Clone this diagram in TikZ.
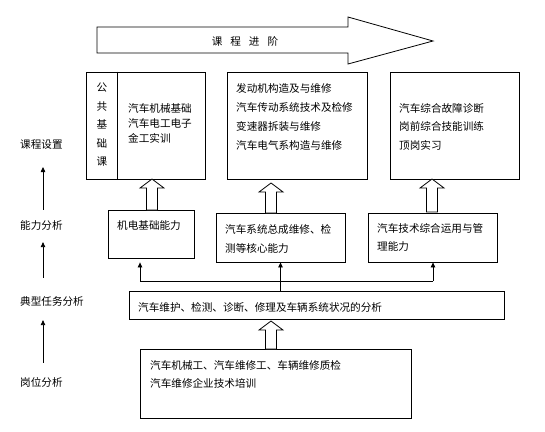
\documentclass[tikz,border=0pt]{standalone}
\usepackage{fontspec}
\newfontfamily\cjk{Noto Sans CJK SC}
\usetikzlibrary{arrows.meta}

% hollow upward block arrow: x centre, tip y, foot y
\newcommand{\hollowup}[3]{%
  \draw[hollow] (#1-5.5,#3) -- (#1-5.5,#2+9) -- (#1-12,#2+9) -- (#1,#2)
    -- (#1+12,#2+9) -- (#1+5.5,#2+9) -- (#1+5.5,#3) -- cycle;}

\begin{document}
\begin{tikzpicture}[
    x=1pt, y=-1pt,
    every node/.style={font=\cjk\fontsize{10.6}{13}\selectfont, inner sep=0pt},
    box/.style={draw, line width=0.8pt, rectangle},
    txt/.style={anchor=west, align=left},
    stage/.style={anchor=west},
    hollow/.style={draw, line width=0.8pt, fill=white, line join=miter},
    arr/.style={-{Triangle[length=5pt,width=4.5pt]}, line width=0.8pt}
]
\useasboundingbox (0,0) rectangle (545,431);

% Progress arrow
\draw[hollow] (97,27) -- (348,27) -- (348,17) -- (433,41) -- (348,64)
  -- (348,53) -- (97,53) -- cycle;
\node (progress) at (245,41) {课\hspace{8pt}程\hspace{8pt}进\hspace{8pt}阶};

% Course boxes
\node[box, minimum width=119pt, minimum height=107pt] (pub) at (145.5,125.5) {};
\node[box, minimum width=140pt, minimum height=107pt] (core) at (297,125.5) {};
\node[box, minimum width=129pt, minimum height=107pt] (comp) at (454.5,125.5) {};
\draw[line width=0.8pt] ([xshift=32pt]pub.north west) -- ([xshift=32pt]pub.south west);

\node[align=center, font=\cjk\fontsize{10.6}{18.5}\selectfont] (pubtitle) at (102,125)
  {公\\共\\基\\础\\课};
\node[txt, font=\cjk\fontsize{10.6}{15}\selectfont] (pubtext) at (128,123)
  {汽车机械基础\\汽车电工电子\\金工实训};
\node[txt, font=\cjk\fontsize{10.6}{19}\selectfont] (coretext) at (236,116.5)
  {发动机构造及与维修\\汽车传动系统技术及检修\\变速器拆装与维修\\汽车电气系构造与维修};
\node[txt, font=\cjk\fontsize{10.6}{18.5}\selectfont] (comptext) at (399,126.5)
  {汽车综合故障诊断\\岗前综合技能训练\\顶岗实习};

% Ability boxes
\node[box, minimum width=86pt, minimum height=48pt] (abil1) at (151,234) {};
\node[box, minimum width=129pt, minimum height=49pt] (abil2) at (280.5,237.5) {};
\node[box, minimum width=129pt, minimum height=49pt] (abil3) at (432.5,237.5) {};
\node[txt] (abiltext1) at (117,225) {机电基础能力};
\node[txt, font=\cjk\fontsize{10.6}{19}\selectfont] (abiltext2) at (225,238.5)
  {汽车系统总成维修、检\\测等核心能力};
\node[txt, font=\cjk\fontsize{10.6}{18}\selectfont] (abiltext3) at (377,237)
  {汽车技术综合运用与管\\理能力};

% Task and job boxes
\node[box, minimum width=375pt, minimum height=28pt] (task) at (316.5,305) {};
\node[txt] (tasktext) at (138,307) {汽车维护、检测、诊断、修理及车辆系统状况的分析};
\node[box, minimum width=271pt, minimum height=69pt] (job) at (275.5,383.5) {};
\node[txt, font=\cjk\fontsize{10.6}{18}\selectfont] (jobtext) at (150,374)
  {汽车机械工、汽车维修工、车辆维修质检\\汽车维修企业技术培训};

% Stage labels
\node[stage] (course) at (20,145) {课程设置};
\node[stage] (ability) at (20,225) {能力分析};
\node[stage] (typical) at (20,301) {典型任务分析};
\node[stage] (post) at (20,382) {岗位分析};
\coordinate (axis) at (43,0);

% Edges
\hollowup{152}{179}{210}
\hollowup{271}{183}{213}
\hollowup{432}{179}{212}
\hollowup{271}{321}{349}

\draw[arr, shorten <=10pt, shorten >=17pt] (ability.north -| axis) -- (course.south -| axis);
\draw[arr, shorten <=18pt, shorten >=12pt] (typical.north -| axis) -- (ability.south -| axis);
\draw[arr, shorten <=14pt, shorten >=14pt] (post.north -| axis) -- (typical.south -| axis);

\coordinate (splitl) at (140,281);
\coordinate (splitr) at (433,281);
\draw[line width=0.8pt] (splitl) -- (splitr);
\draw[arr] (task.north -| abil2.south) -- (abil2.south);
\draw[arr, shorten >=4pt] (splitl) -- (splitl |- abil1.south);
\draw[arr] (splitr) -- (splitr |- abil3.south);

\end{tikzpicture}
\end{document}
